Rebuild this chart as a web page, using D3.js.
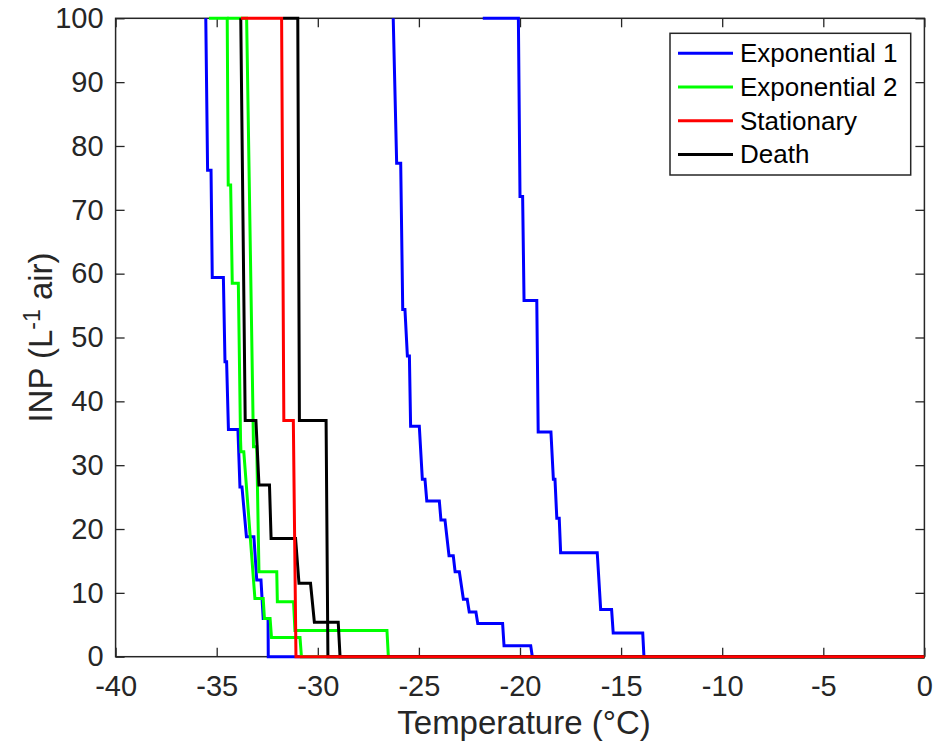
<!DOCTYPE html>
<html>
<head>
<meta charset="utf-8">
<script src="https://cdn.jsdelivr.net/npm/d3@7"></script>
<style>
  body { margin: 0; background: #fff; }
  text { font-family: "Liberation Sans", Arial, Helvetica, sans-serif; }
</style>
</head>
<body>
<svg id="chart" width="934" height="745"></svg>
<script>
// Cumulative INP spectra, [temperature °C, INP per litre of air], cold to warm
const exp1a = [[-35.54,100],[-35.45,76.2],[-35.28,76.2],[-35.22,59.4],[-34.67,59.4],[-34.59,46.2],[-34.51,46.2],[-34.42,35.6],[-33.95,35.6],[-33.85,26.6],[-33.75,26.6],[-33.53,18.8],[-33.16,18.8],[-33.02,12.0],[-32.81,12.0],[-32.70,6.0],[-32.46,6.0],[-32.45,0],[0,0]];
const exp1b = [[-26.27,100],[-26.10,77.3],[-25.90,77.3],[-25.80,54.4],[-25.69,54.4],[-25.57,47.1],[-25.47,47.1],[-25.41,36.1],[-24.98,36.1],[-24.83,27.8],[-24.70,27.8],[-24.61,24.4],[-23.99,24.4],[-23.91,21.4],[-23.71,21.4],[-23.51,15.8],[-23.30,15.8],[-23.21,13.3],[-23.00,13.3],[-22.80,9.0],[-22.61,9.0],[-22.51,7.0],[-22.18,7.0],[-22.09,5.2],[-20.86,5.2],[-20.79,1.7],[-19.47,1.7],[-19.39,0],[0,0]];
const exp1c = [[-21.84,100],[-20.08,100],[-20.00,72.1],[-19.87,72.1],[-19.80,55.8],[-19.17,55.8],[-19.10,35.2],[-18.47,35.2],[-18.35,27.8],[-18.27,27.8],[-18.18,21.7],[-18.06,21.7],[-17.99,16.3],[-16.18,16.3],[-16.01,7.4],[-15.47,7.4],[-15.39,3.7],[-13.93,3.7],[-13.87,0],[0,0]];
const exp2a = [[-35.38,100],[-34.48,100],[-34.43,73.9],[-34.31,73.9],[-34.23,58.5],[-33.93,58.5],[-33.82,33.9],[-33.80,32.1],[-33.66,32.1],[-33.11,9.1],[-32.70,9.1],[-32.64,6.0],[-32.36,6.0],[-32.29,3.0],[-30.88,3.0],[-30.81,0],[0,0]];
const exp2b = [[-34.48,100],[-33.52,100],[-33.18,32.9],[-33.02,32.9],[-32.91,13.3],[-32.03,13.3],[-32.00,8.6],[-31.20,8.6],[-31.13,4.1],[-26.58,4.1],[-26.51,0],[0,0]];
const stationary = [[-33.80,100],[-31.79,100],[-31.68,37.0],[-31.21,37.0],[-31.08,0],[0,0]];
const deathA = [[-33.81,100],[-33.59,37.0],[-33.06,37.0],[-32.91,26.9],[-32.39,26.9],[-32.31,18.5],[-31.10,18.5],[-30.93,11.5],[-30.36,11.5],[-30.17,5.4],[-28.99,5.4],[-28.90,0],[0,0]];
const deathB = [[-31.72,100],[-30.99,100],[-30.91,37.0],[-29.59,37.0],[-29.50,0],[0,0]];

const phases = ["Exponential 1", "Exponential 2", "Stationary", "Death"];
const xTickValues = [-40, -35, -30, -25, -20, -15, -10, -5, 0];
const yTickValues = [0, 10, 20, 30, 40, 50, 60, 70, 80, 90, 100];

// curves in drawing order (later ones sit on top)
const curves = [
  { phase: "Exponential 1", points: exp1a },
  { phase: "Exponential 1", points: exp1b },
  { phase: "Exponential 1", points: exp1c },
  { phase: "Exponential 2", points: exp2a },
  { phase: "Exponential 2", points: exp2b },
  { phase: "Death", points: deathA },
  { phase: "Death", points: deathB },
  { phase: "Stationary", points: stationary }
];

const phaseColor = d3.scaleOrdinal()
  .domain(phases)
  .range(["#0000ff", "#00ff00", "#ff0000", "#000000"]);

const plot = { left: 115.6, right: 924.4, top: 18.3, bottom: 656.7 };
const axisColor = "#262626";

const svg = d3.select("#chart");

const x = d3.scaleLinear().domain([-40, 0]).range([plot.left, plot.right]);
const y = d3.scaleLinear().domain([0, 100]).range([plot.bottom, plot.top]);

const fmt = d => String(d);
const tickLen = 9;

// axes box
svg.append("rect")
  .attr("x", plot.left).attr("y", plot.top)
  .attr("width", plot.right - plot.left).attr("height", plot.bottom - plot.top)
  .attr("fill", "none").attr("stroke", axisColor).attr("stroke-width", 1.5);

// axes: ticks point inward on all four sides
const axes = [
  { axis: d3.axisBottom(x).tickValues(xTickValues).tickFormat(fmt), t: `translate(0,${plot.bottom})`, pad: 19 },
  { axis: d3.axisTop(x).tickValues(xTickValues).tickFormat(""), t: `translate(0,${plot.top})`, pad: 10 },
  { axis: d3.axisLeft(y).tickValues(yTickValues).tickFormat(fmt), t: `translate(${plot.left},0)`, pad: 12 },
  { axis: d3.axisRight(y).tickValues(yTickValues).tickFormat(""), t: `translate(${plot.right},0)`, pad: 10 }
];

axes.forEach(a => {
  const g = svg.append("g")
    .attr("transform", a.t)
    .call(a.axis.tickSizeInner(-tickLen).tickSizeOuter(0).tickPadding(a.pad));
  g.select(".domain").remove();
  g.selectAll(".tick line").attr("stroke", axisColor).attr("stroke-width", 1.3);
  g.selectAll(".tick text")
    .attr("fill", axisColor)
    .style("font-size", "29px")
    .style("font-family", "'Liberation Sans', Arial, sans-serif");
});

// curves
const line = d3.line().x(d => x(d[0])).y(d => y(d[1]));
svg.append("g")
  .selectAll("path")
  .data(curves)
  .join("path")
  .attr("d", d => line(d.points))
  .attr("fill", "none")
  .attr("stroke", d => phaseColor(d.phase))
  .attr("stroke-width", 3)
  .attr("stroke-linejoin", "miter");

// axis titles
svg.append("text")
  .attr("x", (plot.left + plot.right) / 2 + 4)
  .attr("y", 734)
  .attr("text-anchor", "middle")
  .attr("fill", axisColor)
  .style("font-size", "33px")
  .text("Temperature (°C)");

const yTitle = svg.append("text")
  .attr("transform", `translate(52,${(plot.top + plot.bottom) / 2}) rotate(-90)`)
  .attr("text-anchor", "middle")
  .attr("fill", axisColor)
  .style("font-size", "33px");
yTitle.append("tspan").text("INP (L");
yTitle.append("tspan").attr("dy", -12).style("font-size", "23px").text("-1");
yTitle.append("tspan").attr("dy", 12).text(" air)");

// legend
const legend = svg.append("g");
const lg = { x0: 670, y0: 33.3, x1: 910.7, y1: 175, row0: 53.3, rowStep: 33.7 };
legend.append("rect")
  .attr("x", lg.x0).attr("y", lg.y0)
  .attr("width", lg.x1 - lg.x0).attr("height", lg.y1 - lg.y0)
  .attr("fill", "#fff").attr("stroke", axisColor).attr("stroke-width", 1.5);

const rows = legend.selectAll("g.row")
  .data(phases)
  .join("g")
  .attr("class", "row")
  .attr("transform", (d, i) => `translate(0,${lg.row0 + i * lg.rowStep})`);
rows.append("line")
  .attr("x1", 678).attr("x2", 733)
  .attr("stroke", d => phaseColor(d))
  .attr("stroke-width", 3);
rows.append("text")
  .attr("x", 740).attr("y", 9)
  .attr("fill", "#000")
  .style("font-size", "26px")
  .text(d => d);
</script>
</body>
</html>
